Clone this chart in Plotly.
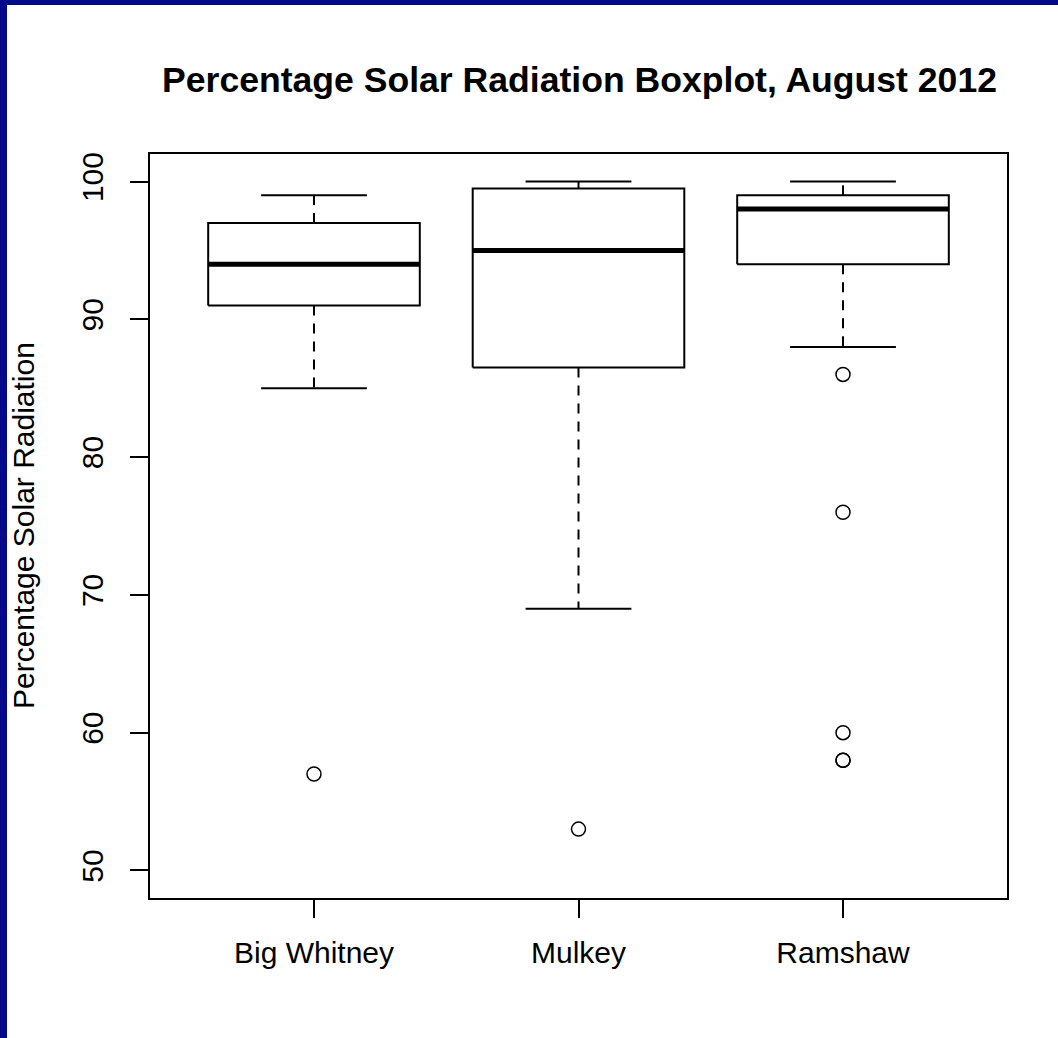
import plotly.graph_objects as go

# August 2012 percentage solar radiation
sites = ["Big Whitney", "Mulkey", "Ramshaw"]
lower_whisker = [85, 69, 88]
q1 = [91, 86.5, 94]
median = [94, 95, 98]
q3 = [97, 99.5, 99]
upper_whisker = [99, 100, 100]
outliers = [[57], [53], [86, 76, 60, 58, 58]]
y_ticks = [50, 60, 70, 80, 90, 100]

W, H = 1058, 1038
ML, MR, MT, MB = 150, 51, 154, 140
FONT = "Liberation Sans, Arial, sans-serif"
NAVY = "#04098a"

pos = list(range(1, len(sites) + 1))
box_half, cap_half = 0.4, 0.2

# build line segments from the stats (None breaks between boxes)
bx, by, mx, my, wx, wy, cx, cy = [], [], [], [], [], [], [], []
for p, lo, a, m, b, hi in zip(pos, lower_whisker, q1, median, q3, upper_whisker):
    bx += [p - box_half, p + box_half, p + box_half, p - box_half, p - box_half, None]
    by += [a, a, b, b, a, None]
    mx += [p - box_half, p + box_half, None]
    my += [m, m, None]
    wx += [p, p, None, p, p, None]
    wy += [b, hi, None, a, lo, None]
    cx += [p - cap_half, p + cap_half, None, p - cap_half, p + cap_half, None]
    cy += [hi, hi, None, lo, lo, None]

ox, oy = [], []
for p, vals in zip(pos, outliers):
    ox += [p] * len(vals)
    oy += vals

fig = go.Figure()
fig.add_trace(go.Scatter(x=wx, y=wy, mode="lines",
                         line=dict(color="black", width=2, dash="10px,8px")))
fig.add_trace(go.Scatter(x=cx, y=cy, mode="lines", line=dict(color="black", width=2)))
fig.add_trace(go.Scatter(x=bx, y=by, mode="lines", line=dict(color="black", width=2)))
fig.add_trace(go.Scatter(x=mx, y=my, mode="lines", line=dict(color="black", width=5)))
fig.add_trace(go.Scatter(x=ox, y=oy, mode="markers",
                         marker=dict(symbol="circle-open", size=14, color="black",
                                     line=dict(width=1.5))))

fig.update_layout(
    width=W, height=H,
    margin=dict(l=ML, r=MR, t=MT, b=MB, pad=0),
    paper_bgcolor="white", plot_bgcolor="white",
    showlegend=False,
    font=dict(family=FONT, color="black", size=30),
    title=dict(text="Percentage Solar Radiation Boxplot, August 2012",
               font=dict(family=FONT, size=35.6, weight="bold", color="black"),
               x=(ML + (W - ML - MR) / 2 + 1) / W, xanchor="center",
               yref="container", y=1 - 80 / H, yanchor="middle"),
)

fig.update_xaxes(
    range=[0.38, 3.62], tickvals=pos, ticktext=sites,
    showgrid=False, zeroline=False,
    showline=True, mirror=True, linecolor="black", linewidth=2,
    ticks="outside", ticklen=18, tickwidth=2, tickcolor="black",
    ticklabelstandoff=9, tickfont=dict(size=30),
)
fig.update_yaxes(
    range=[48, 102], tickvals=y_ticks, ticktext=[str(v) for v in y_ticks],
    tickangle=-90,
    showgrid=False, zeroline=False,
    showline=True, mirror=True, linecolor="black", linewidth=2,
    ticks="outside", ticklen=18, tickwidth=2, tickcolor="black",
    ticklabelstandoff=15, tickfont=dict(size=30),
)

fig.add_annotation(text="Percentage Solar Radiation", textangle=-90,
                   xref="paper", yref="paper", x=0, y=0.5,
                   xanchor="center", yanchor="middle", xshift=-(ML - 23),
                   showarrow=False, font=dict(size=30))

# navy frame strips on the top and left edge of the page
pw, ph = W - ML - MR, H - MT - MB
fig.add_shape(type="rect", xref="paper", yref="paper", layer="above",
              x0=-ML / pw, x1=(7 - ML) / pw, y0=-MB / ph, y1=(H - MB) / ph,
              fillcolor=NAVY, line_width=0)
fig.add_shape(type="rect", xref="paper", yref="paper", layer="above",
              x0=-ML / pw, x1=(W - ML) / pw, y0=(H - MB - 5) / ph, y1=(H - MB) / ph,
              fillcolor=NAVY, line_width=0)

# page body has a default 8px margin; drop it so the figure sits at 0,0
fig.write_html("out.html", config={"displayModeBar": False},
               post_script="document.body.style.margin='0';")
